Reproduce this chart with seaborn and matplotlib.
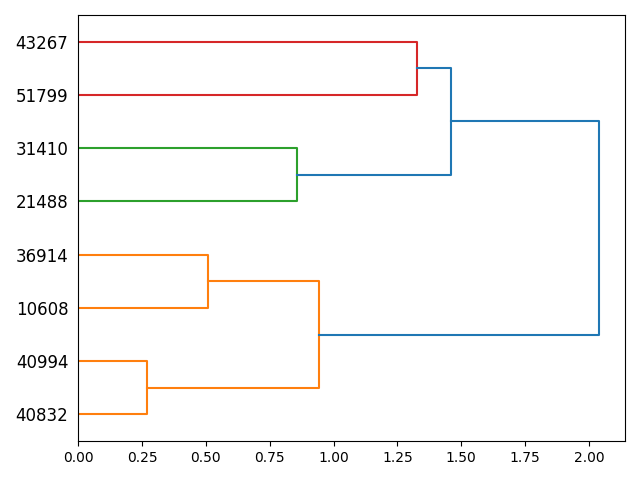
import numpy as np
import matplotlib
matplotlib.use("Agg")
import matplotlib.pyplot as plt
import seaborn as sns

# leaves in display order, bottom to top
leaves = ["40832", "40994", "10608", "36914", "21488", "31410", "51799", "43267"]

# merges (linkage style): node ids >= len(leaves) are earlier merges
merge_left = [0, 2, 8, 4, 6, 11, 10]
merge_right = [1, 3, 9, 5, 7, 12, 13]
merge_height = [0.27, 0.51, 0.945, 0.855, 1.325, 1.46, 2.04]

palette = ["C1", "C2", "C3"]
above_color = "C0"

n = len(leaves)
threshold = 0.7 * max(merge_height)

# positions of every node
ypos = {i: 5 + 10 * i for i in range(n)}
hpos = {i: 0.0 for i in range(n)}
for k, (a, b, h) in enumerate(zip(merge_left, merge_right, merge_height)):
    ypos[n + k] = (ypos[a] + ypos[b]) / 2
    hpos[n + k] = h

# colour clusters below the threshold, in order of appearance
node_color = {}
color_idx = 0


def paint(node, c):
    node_color[node] = c
    if node >= n:
        k = node - n
        paint(merge_left[k], c)
        paint(merge_right[k], c)


def walk(node):
    global color_idx
    if node < n:
        return
    k = node - n
    if merge_height[k] < threshold:
        paint(node, palette[color_idx % len(palette)])
        color_idx += 1
    else:
        node_color[node] = above_color
        walk(merge_left[k])
        walk(merge_right[k])


walk(n + len(merge_height) - 1)

fig, ax = plt.subplots(figsize=(6.4, 4.8), dpi=100)

for k, (a, b, h) in enumerate(zip(merge_left, merge_right, merge_height)):
    xs = [hpos[a], h, h, hpos[b]]
    ys = [ypos[a], ypos[a], ypos[b], ypos[b]]
    sns.lineplot(x=xs, y=ys, sort=False, estimator=None, color=node_color[n + k],
                 linewidth=1.5, ax=ax)

ax.set_ylim(0, 10 * n)
ax.set_xlim(0, max(merge_height) * 1.05)
ax.set_yticks([5 + 10 * i for i in range(n)])
ax.set_yticklabels(leaves, fontsize=12)
ax.tick_params(axis="y", left=False, right=False)

fig.subplots_adjust(left=0.122, right=0.977, top=0.969, bottom=0.081)
fig.savefig("out.png", dpi=100)
